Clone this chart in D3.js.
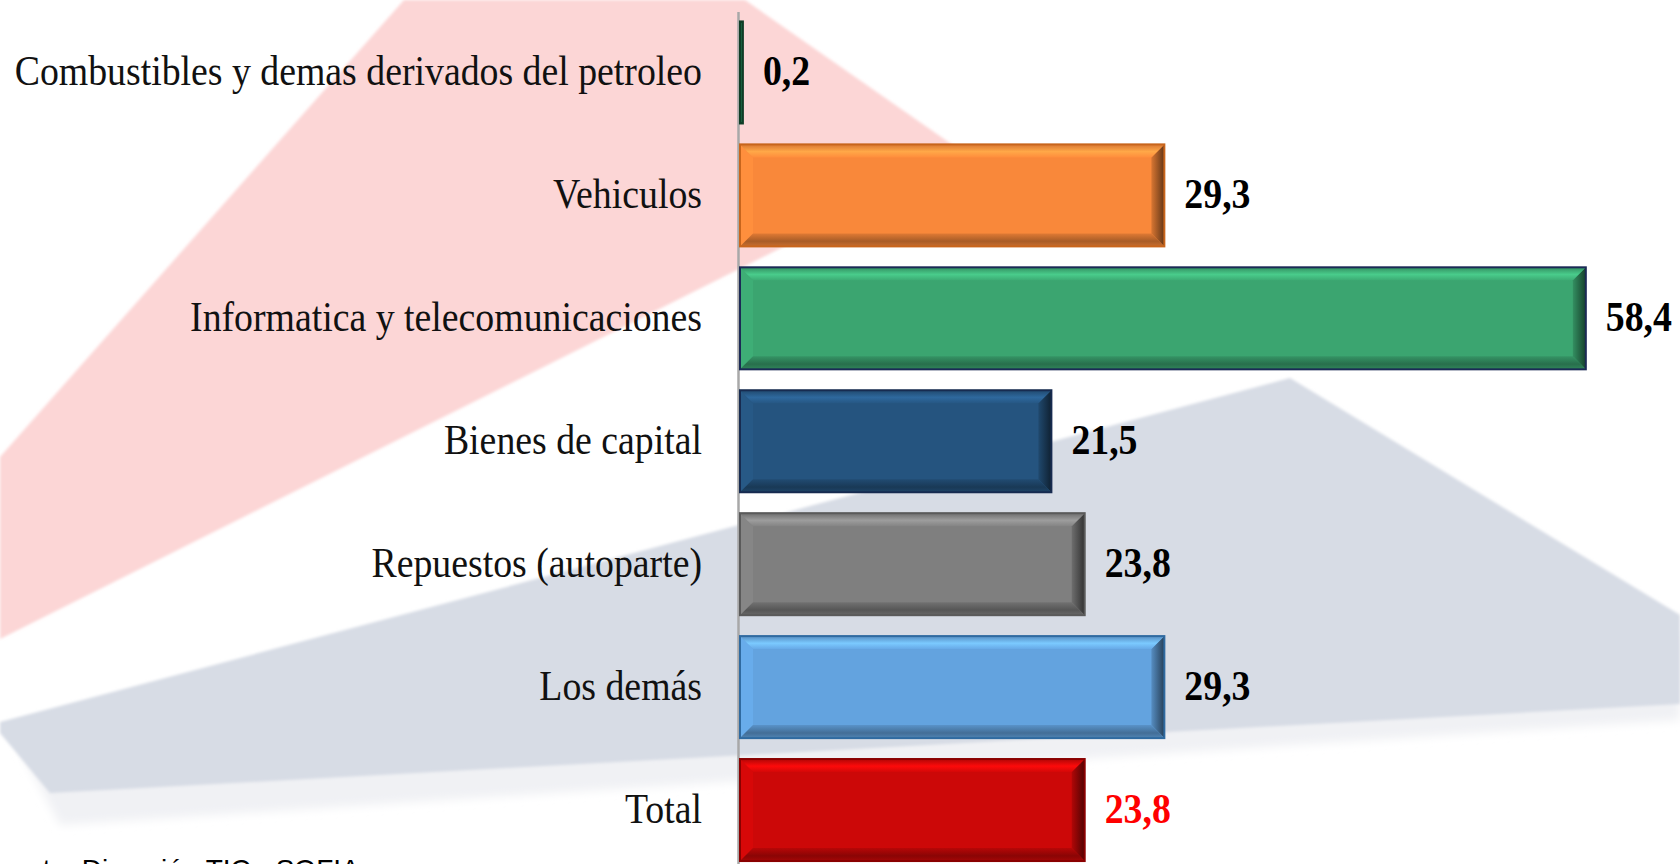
<!DOCTYPE html>
<html>
<head>
<meta charset="utf-8">
<script src="https://cdn.jsdelivr.net/npm/d3@7"></script>
<style>
  body { margin: 0; background: #fff; }
  svg { display: block; }
</style>
</head>
<body>
<div id="chart"><svg width="1680" height="864"></svg></div>
<script>
// Datos
const categories = [
  "Combustibles y demas derivados del petroleo",
  "Vehiculos",
  "Informatica y telecomunicaciones",
  "Bienes de capital",
  "Repuestos (autoparte)",
  "Los demás",
  "Total",
];
const values = [0.2, 29.3, 58.4, 21.5, 23.8, 29.3, 23.8];
const barColors = ["#1d6b45", "#f9883a", "#3ba570", "#25547f", "#7f7f7f", "#63a3df", "#cc0808"];
const outlineColors = ["#0f3d26", "#c8651c", "#1b2a55", "#172b50", "#5a5a5a", "#2f6aa0", "#8a0000"];
const labelColors = ["#000", "#000", "#000", "#000", "#000", "#000", "#ff0000"];
const sourceText = "Fuente: Dirección TIC - SOFIA";

const svg = d3.select("#chart svg");

// Fondo decorativo
const bg = svg.append("g");
const defs = svg.append("defs");
defs.append("filter").attr("id", "soft").append("feGaussianBlur").attr("stdDeviation", 1.5);
defs.append("filter").attr("id", "softer").append("feGaussianBlur").attr("stdDeviation", 5);

bg.append("polygon")
  .attr("points", "404,0 745,0 967,155 0,639 0,457")
  .attr("fill", "#fcd6d6")
  .attr("filter", "url(#soft)");

bg.append("polygon")
  .attr("points", "20,750 1290,395 1680,640 1680,720 60,825")
  .attr("fill", "#f0f1f4")
  .attr("filter", "url(#softer)");

bg.append("polygon")
  .attr("points", "0,722 1290,378 1680,615 1680,704 50,793 0,733")
  .attr("fill", "#d7dce5")
  .attr("filter", "url(#soft)");

// Escalas
const xScale = d3.scaleLinear().domain([0, 60]).range([740, 1609]);
const yScale = d3
  .scaleBand()
  .domain(categories)
  .range([11, 871.5])
  .paddingInner(0.17)
  .paddingOuter(0.085);

// Eje vertical
const yAxis = d3.axisLeft(yScale).tickSize(0).tickFormat("").tickSizeOuter(0);
const axisG = svg.append("g").attr("transform", `translate(${xScale(0) - 1.5}, 0)`).call(yAxis);
axisG.select(".domain").attr("stroke", "#a8a8a8").attr("stroke-width", 2.5).attr("d", "M0,12V864");

// Barras con bisel
const bars = svg.append("g");
values.forEach((v, i) => {
  const c = d3.color(barColors[i]);
  const x0 = xScale(0);
  const x1 = xScale(v);
  const y0 = yScale(categories[i]);
  const h = yScale.bandwidth();
  const b = Math.min(13, (x1 - x0) / 2, h / 2);

  const gTop = defs.append("linearGradient").attr("id", `top${i}`)
    .attr("x1", 0).attr("y1", 0).attr("x2", 0).attr("y2", 1);
  gTop.append("stop").attr("offset", "0%").attr("stop-color", c.darker(0.4));
  gTop.append("stop").attr("offset", "55%").attr("stop-color", c.brighter(0.6));
  gTop.append("stop").attr("offset", "100%").attr("stop-color", c.brighter(0.1));

  const gBot = defs.append("linearGradient").attr("id", `bot${i}`)
    .attr("x1", 0).attr("y1", 0).attr("x2", 0).attr("y2", 1);
  gBot.append("stop").attr("offset", "0%").attr("stop-color", c.darker(0.3));
  gBot.append("stop").attr("offset", "60%").attr("stop-color", c.darker(1.1));
  gBot.append("stop").attr("offset", "100%").attr("stop-color", c.darker(0.6));

  const gRight = defs.append("linearGradient").attr("id", `right${i}`)
    .attr("x1", 0).attr("y1", 0).attr("x2", 1).attr("y2", 0);
  gRight.append("stop").attr("offset", "0%").attr("stop-color", c.darker(0.4));
  gRight.append("stop").attr("offset", "100%").attr("stop-color", c.darker(2.6));

  const g = bars.append("g");
  g.append("rect")
    .attr("x", x0)
    .attr("y", y0)
    .attr("width", x1 - x0)
    .attr("height", h)
    .attr("fill", barColors[i]);

  g.append("polygon")
    .attr("points", [[x0, y0], [x0 + b, y0 + b], [x0 + b, y0 + h - b], [x0, y0 + h]].join(" "))
    .attr("fill", c.brighter(0.15));
  g.append("polygon")
    .attr("points", [[x1, y0], [x1 - b, y0 + b], [x1 - b, y0 + h - b], [x1, y0 + h]].join(" "))
    .attr("fill", `url(#right${i})`);
  g.append("polygon")
    .attr("points", [[x0, y0], [x1, y0], [x1 - b, y0 + b], [x0 + b, y0 + b]].join(" "))
    .attr("fill", `url(#top${i})`);
  g.append("polygon")
    .attr("points", [[x0, y0 + h], [x1, y0 + h], [x1 - b, y0 + h - b], [x0 + b, y0 + h - b]].join(" "))
    .attr("fill", `url(#bot${i})`);

  g.append("rect")
    .attr("x", x0)
    .attr("y", y0)
    .attr("width", x1 - x0)
    .attr("height", h)
    .attr("fill", "none")
    .attr("stroke", outlineColors[i])
    .attr("stroke-width", 2);
});

// Etiquetas de categoria
svg.append("g")
  .selectAll("text")
  .data(categories)
  .join("text")
  .attr("transform", (d) => `translate(702, ${yScale(d) + yScale.bandwidth() / 2 + 13}) scale(0.9, 1)`)
  .attr("text-anchor", "end")
  .style("font-family", "'Liberation Serif', 'Times New Roman', serif")
  .style("font-size", "42px")
  .attr("fill", "#111")
  .text((d) => d);

// Etiquetas de valor
const fmt = d3.formatLocale({ decimal: ",", thousands: ".", grouping: [3], currency: ["", ""] }).format(".1f");
svg.append("g")
  .selectAll("text")
  .data(values)
  .join("text")
  .attr("transform", (d, i) => `translate(${xScale(d) + 20}, ${yScale(categories[i]) + yScale.bandwidth() / 2 + 13}) scale(0.9, 1)`)
  .style("font-family", "'Liberation Serif', 'Times New Roman', serif")
  .style("font-size", "42px")
  .style("font-weight", "bold")
  .attr("fill", (d, i) => labelColors[i])
  .text((d) => fmt(d));

// Fuente
svg.append("text")
  .attr("x", -21)
  .attr("y", 879)
  .style("font-family", "'Liberation Sans', Arial, sans-serif")
  .style("font-size", "28px")
  .attr("fill", "#000")
  .text(sourceText);
</script>
</body>
</html>
